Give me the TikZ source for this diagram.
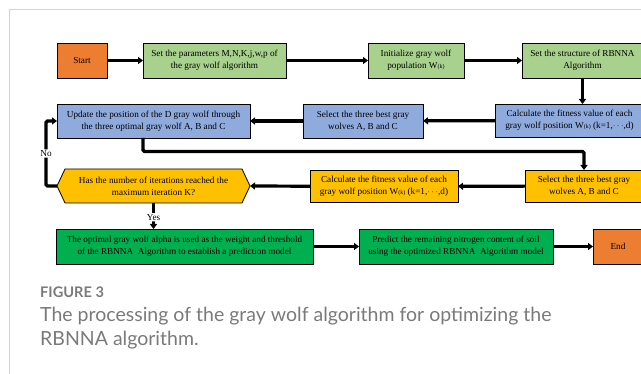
\documentclass[tikz,border=0pt]{standalone}
\usepackage{fontspec}
\setmainfont{Liberation Serif}
\newfontfamily\capfont{Lato}
\usetikzlibrary{arrows.meta,backgrounds}

\definecolor{boxorange}{HTML}{ED7D31}
\definecolor{boxlightgreen}{HTML}{A9D18E}
\definecolor{boxblue}{HTML}{8FAADC}
\definecolor{boxamber}{HTML}{FFC000}
\definecolor{boxgreen}{HTML}{00B050}
\definecolor{framegray}{HTML}{D4D4D4}
\definecolor{capgray}{HTML}{7A7A7A}

\newcommand{\wk}{W{\fontsize{6}{6}\selectfont(k)}}

\begin{document}
\begin{tikzpicture}[x=1pt,y=-1pt,
  box/.style={draw=black, line width=0.8pt, align=center, inner sep=1pt, outer sep=0pt,
              font=\fontsize{9.2}{12}\selectfont, text=black},
  flow/.style={line width=3.2pt, rounded corners=1.5pt,
               -{Triangle[width=7pt,length=5pt]}},
  tag/.style={fill=white, inner sep=1pt, font=\fontsize{9.2}{11}\selectfont}]

\useasboundingbox (0,0) rectangle (641,374);
\clip (0,0) rectangle (641,374);

% card frame
\draw[framegray, line width=1pt] (9.5,380) -- (9.5,9.5) -- (650,9.5);

% first row
\node[box, fill=boxorange, minimum width=50pt, minimum height=35pt] (start) at (82,60.5) {Start};
\node[box, fill=boxlightgreen, minimum width=143pt, minimum height=35pt] (params) at (214.5,60.5)
  {Set the parameters M,N,K,j,w,p of\\the gray wolf algorithm};
\node[box, fill=boxlightgreen, minimum width=96pt, minimum height=35pt] (init) at (416,60.5)
  {Initialize gray wolf\\population \wk};
\node[box, fill=boxlightgreen, minimum width=121pt, minimum height=35pt] (struct) at (582.5,60.5)
  {Set the structure of RBNNA\\Algorithm};

% second row
\node[box, fill=boxblue, minimum width=149pt, minimum height=33pt] (calcA) at (569.5,120.5)
  {Calculate the fitness value of each\\gray wolf position \wk\ (k=1,$\cdots$,d)};
\node[box, fill=boxblue, minimum width=120pt, minimum height=34pt] (selA) at (363,121)
  {Select the three best gray\\wolves A, B and C};
\node[box, fill=boxblue, minimum width=193pt, minimum height=34pt] (update) at (153.5,121)
  {Update the position of the D gray wolf through\\the three optimal gray wolf A, B and C};

% third row
\node[box, fill=boxamber, minimum width=118pt, minimum height=32pt] (selB) at (584,186)
  {Select the three best gray\\wolves A, B and C};
\node[box, fill=boxamber, minimum width=148pt, minimum height=32pt] (calcB) at (384,186.5)
  {Calculate the fitness value of each\\gray wolf position \wk\ (k=1,$\cdots$,d)};
\node[box, draw=none, minimum width=193pt, minimum height=34pt] (check) at (153.5,186)
  {Has the number of iterations reached the\\maximum iteration K?};
\begin{scope}[on background layer]
  \filldraw[fill=boxamber, draw=black, line width=0.8pt]
    (check.west) -- ([xshift=8pt]check.north west) -- ([xshift=-8pt]check.north east)
    -- (check.east) -- ([xshift=-8pt]check.south east) -- ([xshift=8pt]check.south west) -- cycle;
\end{scope}

% fourth row
\node[box, fill=boxgreen, minimum width=257pt, minimum height=35pt] (model) at (184.5,246.5)
  {The optimal gray wolf alpha is used as the weight and threshold\\of the RBNNA\ \ Algorithm to establish a prediction model};
\node[box, fill=boxgreen, minimum width=194pt, minimum height=35pt] (predict) at (456,246.5)
  {Predict the remaining nitrogen content of soil\\using the optimized RBNNA\ \ Algorithm model};
\node[box, fill=boxorange, minimum width=50pt, minimum height=35pt] (end) at (618,246.5) {End};

% connectors
\draw[flow] (start) -- (params);
\draw[flow] (params) -- (init);
\draw[flow] (init) -- (struct);
\draw[flow] (struct.south) -- (struct.south |- calcA.north);
\draw[flow] (calcA) -- (selA);
\draw[flow] (selA) -- (update);
\draw[flow] ([xshift=-10.5pt]update.south) -- ++(0,13.5) -| (selB.north);
\draw[flow] (selB) -- (calcB);
\draw[flow] (calcB) -- (check.east);
\draw[flow] (check.west) -- ++(-11,0) |- node[tag, pos=0.25] (no) {No} (update.west);
\draw[flow] (check.south) -- node[tag, pos=0.55] (yes) {Yes} (check.south |- model.north);
\draw[flow] (model) -- (predict);
\draw[flow] (predict) -- (end);

% caption
\node[anchor=base west, inner sep=0pt, text=capgray,
      font=\capfont\bfseries\fontsize{14.6}{15}\selectfont] (figno) at (40,298) {FIGURE 3};
\node[anchor=base west, inner sep=0pt, text=capgray,
      font=\capfont\fontsize{19.5}{22}\selectfont] (capA) at (40,322)
  {The processing of the gray wolf algorithm for optimizing the};
\node[anchor=base west, inner sep=0pt, text=capgray,
      font=\capfont\fontsize{19.5}{22}\selectfont] (capB) at (40,346)
  {RBNNA algorithm.};
\end{tikzpicture}
\end{document}
